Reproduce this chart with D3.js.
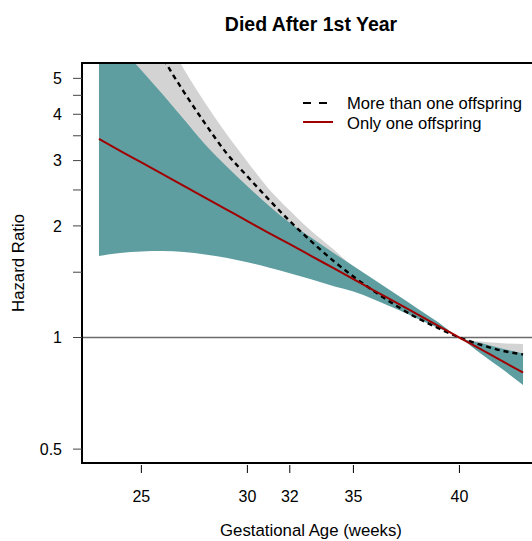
<!DOCTYPE html>
<html>
<head>
<meta charset="utf-8">
<script src="https://cdn.jsdelivr.net/npm/d3@7"></script>
<style>
  body { margin: 0; background: #fff; }
  svg { display: block; font-family: "Liberation Sans", Arial, sans-serif; }
</style>
</head>
<body>
<svg width="532" height="541"></svg>
<script>
// gestational age in weeks
var ages = [23, 24, 25, 26, 27, 28, 29, 30, 31, 32, 33, 34, 35, 36, 37, 38, 39, 40, 41, 42, 43];

// only one offspring (red line + teal band)
var oneHR =    [3.431, 3.188, 2.965, 2.757, 2.563, 2.383, 2.216, 2.061, 1.916, 1.786, 1.661, 1.545, 1.437, 1.336, 1.243, 1.156, 1.075, 1.0, 0.930, 0.865, 0.804];
var oneUpper = [7.03, 6.05, 5.26, 4.53, 3.88, 3.32, 2.90, 2.56, 2.27, 2.04, 1.86, 1.70, 1.56, 1.43, 1.31, 1.20, 1.10, 1.0, 0.966, 0.934, 0.905];
var oneLower = [1.66, 1.69, 1.705, 1.71, 1.70, 1.675, 1.64, 1.595, 1.545, 1.49, 1.435, 1.38, 1.33, 1.265, 1.195, 1.125, 1.06, 1.0, 0.905, 0.823, 0.745];

// more than one offspring (dashed line + grey band)
var moreHR =    [11.0, 9.0, 7.3, 5.7, 4.6, 3.78, 3.15, 2.72, 2.36, 2.06, 1.82, 1.62, 1.46, 1.33, 1.22, 1.13, 1.06, 1.0, 0.956, 0.922, 0.90];
var moreUpper = [12.8, 10.3, 8.3, 6.7, 5.3, 4.3, 3.55, 2.98, 2.52, 2.2, 1.94, 1.74, 1.55, 1.41, 1.28, 1.17, 1.08, 1.0, 0.975, 0.965, 0.96];
var moreLower = [4.6, 4.3, 4.0, 3.6, 3.2, 2.85, 2.55, 2.3, 2.1, 1.9, 1.72, 1.55, 1.4, 1.3, 1.22, 1.13, 1.065, 1.0, 0.93, 0.87, 0.83];

var xTicks = [25, 30, 32, 35, 40];
var yTicks = [0.5, 1, 1.5, 2, 2.5, 3, 3.5, 4, 4.5, 5];
var yLabels = [0.5, 1, 2, 3, 4, 5];

var legendNames = ["More than one offspring", "Only one offspring"];

// plot box (right edge falls outside the window, as in the original)
var plotLeft = 82, plotRight = 540, plotTop = 63, plotBottom = 463;

var svg = d3.select('svg');

var x = d3.scaleLinear().domain([22.2, 43.8]).range([plotLeft, plotRight]);
var y = d3.scaleLog().domain([0.4587, 5.50]).range([plotBottom, plotTop]);

svg.append('clipPath').attr('id', 'plotclip')
  .append('rect')
  .attr('x', plotLeft).attr('y', plotTop)
  .attr('width', plotRight - plotLeft).attr('height', plotBottom - plotTop);

var plot = svg.append('g').attr('clip-path', 'url(#plotclip)');

var more = ages.map(function(a, i) { return {age: a, hr: moreHR[i], lo: moreLower[i], hi: moreUpper[i]}; });
var one = ages.map(function(a, i) { return {age: a, hr: oneHR[i], lo: oneLower[i], hi: oneUpper[i]}; });

var band = d3.area()
  .x(function(d) { return x(d.age); })
  .y0(function(d) { return y(d.lo); })
  .y1(function(d) { return y(d.hi); })
  .curve(d3.curveMonotoneX);

var line = d3.line()
  .x(function(d) { return x(d.age); })
  .y(function(d) { return y(d.hr); })
  .curve(d3.curveMonotoneX);

plot.append('path').datum(more).attr('d', band).attr('fill', '#d3d3d3');
plot.append('path').datum(one).attr('d', band).attr('fill', '#5f9ea0');

// reference line at HR = 1
plot.append('line')
  .attr('x1', plotLeft).attr('x2', plotRight)
  .attr('y1', y(1)).attr('y2', y(1))
  .attr('stroke', '#6b6b6b').attr('stroke-width', 1.5);

plot.append('path').datum(more).attr('d', line)
  .attr('fill', 'none').attr('stroke', '#000')
  .attr('stroke-width', 2.4).attr('stroke-dasharray', '5,4');

plot.append('path').datum(one).attr('d', line)
  .attr('fill', 'none').attr('stroke', '#a00000')
  .attr('stroke-width', 2);

// box
svg.append('rect')
  .attr('x', plotLeft).attr('y', plotTop)
  .attr('width', plotRight - plotLeft).attr('height', plotBottom - plotTop)
  .attr('fill', 'none').attr('stroke', '#000').attr('stroke-width', 2);

// x axis: ticks only, no line
var xAxis = svg.append('g');
xAxis.selectAll('line').data(xTicks).enter().append('line')
  .attr('x1', function(d) { return x(d); }).attr('x2', function(d) { return x(d); })
  .attr('y1', plotBottom + 2).attr('y2', plotBottom + 10)
  .attr('stroke', '#000').attr('stroke-width', 1);
xAxis.selectAll('text').data(xTicks).enter().append('text')
  .attr('x', function(d) { return x(d); })
  .attr('y', 502)
  .attr('text-anchor', 'middle')
  .attr('font-size', 16)
  .text(function(d) { return d; });

// y axis
var yAxis = svg.append('g');
yAxis.selectAll('line').data(yTicks).enter().append('line')
  .attr('x1', plotLeft - 9).attr('x2', plotLeft)
  .attr('y1', function(d) { return y(d); }).attr('y2', function(d) { return y(d); })
  .attr('stroke', '#444').attr('stroke-width', 1);
yAxis.selectAll('text').data(yLabels).enter().append('text')
  .attr('x', 62)
  .attr('y', function(d) { return y(d); })
  .attr('dy', '0.36em')
  .attr('text-anchor', 'end')
  .attr('font-size', 16)
  .text(function(d) { return d; });

svg.append('text')
  .attr('x', 311).attr('y', 31)
  .attr('text-anchor', 'middle')
  .attr('font-size', 19.5).attr('font-weight', 'bold')
  .text('Died After 1st Year');

svg.append('text')
  .attr('x', 311).attr('y', 536)
  .attr('text-anchor', 'middle')
  .attr('font-size', 16.8)
  .text('Gestational Age (weeks)');

svg.append('text')
  .attr('transform', 'translate(24,' + ((plotTop + plotBottom) / 2) + ') rotate(-90)')
  .attr('text-anchor', 'middle')
  .attr('font-size', 16.8)
  .text('Hazard Ratio');

// legend
var legend = svg.append('g');
legend.append('line')
  .attr('x1', 303).attr('x2', 329).attr('y1', 103).attr('y2', 103)
  .attr('stroke', '#000').attr('stroke-width', 2).attr('stroke-dasharray', '8,8');
legend.append('line')
  .attr('x1', 303).attr('x2', 333).attr('y1', 122).attr('y2', 122)
  .attr('stroke', '#a00000').attr('stroke-width', 2);
legend.selectAll('text').data(legendNames).enter().append('text')
  .attr('x', 347)
  .attr('y', function(d, i) { return 103 + i * 20; })
  .attr('dy', '0.36em')
  .attr('font-size', 16.6)
  .text(function(d) { return d; });
</script>
</body>
</html>
